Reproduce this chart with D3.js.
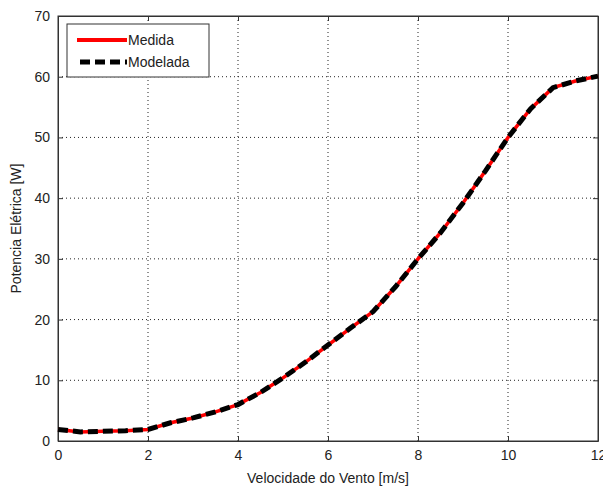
<!DOCTYPE html>
<html>
<head>
<meta charset="utf-8">
<script src="https://cdn.jsdelivr.net/npm/d3@7"></script>
<style>
  body { margin: 0; background: #fff; }
  svg text { font-family: "Liberation Sans", Arial, sans-serif; }
</style>
</head>
<body>
<div id="chart"></div>
<script>
// Data
const velocidade = [0, 0.5, 1, 1.5, 2, 2.5, 3, 3.5, 4, 4.5, 5, 5.5, 6, 6.5, 7, 7.5, 8, 8.5, 9, 9.5, 10, 10.5, 11, 11.5, 12];
const medida = [1.9, 1.5, 1.6, 1.7, 1.9, 3.0, 3.8, 4.8, 6.0, 8.0, 10.4, 13.0, 15.8, 18.6, 21.3, 25.4, 30.0, 34.3, 39.2, 44.5, 50.0, 54.7, 58.2, 59.3, 60.1];
const modelada = [1.9, 1.5, 1.6, 1.7, 1.9, 3.0, 3.8, 4.8, 6.0, 8.0, 10.4, 13.0, 15.8, 18.6, 21.3, 25.4, 30.0, 34.3, 39.2, 44.5, 50.0, 54.7, 58.2, 59.3, 60.1];
const xTicks = [0, 2, 4, 6, 8, 10, 12];
const yTicks = [0, 10, 20, 30, 40, 50, 60, 70];

const W = 603, H = 489;
const margin = { top: 16, right: 5, bottom: 48, left: 58 };
const width = W - margin.left - margin.right;
const height = H - margin.top - margin.bottom;

const svg = d3.select("#chart").append("svg")
    .attr("width", W)
    .attr("height", H);

const g = svg.append("g")
    .attr("transform", `translate(${margin.left},${margin.top})`);

const x = d3.scaleLinear().domain([0, 12]).range([0, width]);
const y = d3.scaleLinear().domain([0, 70]).range([height, 0]);

// dotted grid
g.append("g").selectAll("line")
    .data(xTicks.slice(1, -1))
    .enter().append("line")
    .attr("x1", d => x(d)).attr("x2", d => x(d))
    .attr("y1", 0).attr("y2", height)
    .attr("stroke", "#222").attr("stroke-width", 1)
    .attr("stroke-dasharray", "1,3");

g.append("g").selectAll("line")
    .data(yTicks.slice(1, -1))
    .enter().append("line")
    .attr("x1", 0).attr("x2", width)
    .attr("y1", d => y(d)).attr("y2", d => y(d))
    .attr("stroke", "#222").attr("stroke-width", 1)
    .attr("stroke-dasharray", "1,3");

// axes, ticks pointing inward
const xAxis = g.append("g")
    .attr("transform", `translate(0,${height})`)
    .call(d3.axisBottom(x).tickValues(xTicks).tickSizeInner(-5).tickSizeOuter(0).tickPadding(9));
const yAxis = g.append("g")
    .call(d3.axisLeft(y).tickValues(yTicks).tickSizeInner(-5).tickSizeOuter(0).tickPadding(8));
g.append("g")
    .call(d3.axisTop(x).tickValues(xTicks).tickSizeInner(-5).tickSizeOuter(0).tickFormat(""));
g.append("g")
    .attr("transform", `translate(${width},0)`)
    .call(d3.axisRight(y).tickValues(yTicks).tickSizeInner(-5).tickSizeOuter(0).tickFormat(""));

g.selectAll(".domain").attr("stroke", "#333");
g.selectAll(".tick line").attr("stroke", "#333");
[xAxis, yAxis].forEach(a => a.selectAll("text")
    .style("font-size", "14px")
    .attr("fill", "#222"));

// box
g.append("rect")
    .attr("width", width).attr("height", height)
    .attr("fill", "none").attr("stroke", "#333").attr("stroke-width", 1);

const line = d3.line().x(d => x(d[0])).y(d => y(d[1]));

g.append("path")
    .datum(velocidade.map((v, i) => [v, medida[i]]))
    .attr("d", line)
    .attr("fill", "none")
    .attr("stroke", "#ff0000")
    .attr("stroke-width", 3.5);

g.append("path")
    .datum(velocidade.map((v, i) => [v, modelada[i]]))
    .attr("d", line)
    .attr("fill", "none")
    .attr("stroke", "#000")
    .attr("stroke-width", 5)
    .attr("stroke-dasharray", "10,5");

// legend
const legend = g.append("g").attr("transform", "translate(9,8)");
legend.append("rect")
    .attr("width", 142).attr("height", 53)
    .attr("fill", "#fff").attr("stroke", "#333").attr("stroke-width", 1);
legend.append("line")
    .attr("x1", 10).attr("x2", 60).attr("y1", 16).attr("y2", 16)
    .attr("stroke", "#ff0000").attr("stroke-width", 4);
legend.append("line")
    .attr("x1", 13).attr("x2", 60).attr("y1", 38).attr("y2", 38)
    .attr("stroke", "#000").attr("stroke-width", 5)
    .attr("stroke-dasharray", "10,5");
legend.append("text").attr("x", 61).attr("y", 21)
    .style("font-size", "14px").attr("fill", "#222").text("Medida");
legend.append("text").attr("x", 61).attr("y", 43)
    .style("font-size", "14px").attr("fill", "#222").text("Modelada");

// axis titles
svg.append("text")
    .attr("x", margin.left + width / 2)
    .attr("y", 483)
    .attr("text-anchor", "middle")
    .style("font-size", "14px")
    .attr("fill", "#222")
    .text("Velocidade do Vento [m/s]");

svg.append("text")
    .attr("transform", `translate(21,${margin.top + height / 2}) rotate(-90)`)
    .attr("text-anchor", "middle")
    .style("font-size", "14px")
    .attr("fill", "#222")
    .text("Potencia Elétrica [W]");
</script>
</body>
</html>
